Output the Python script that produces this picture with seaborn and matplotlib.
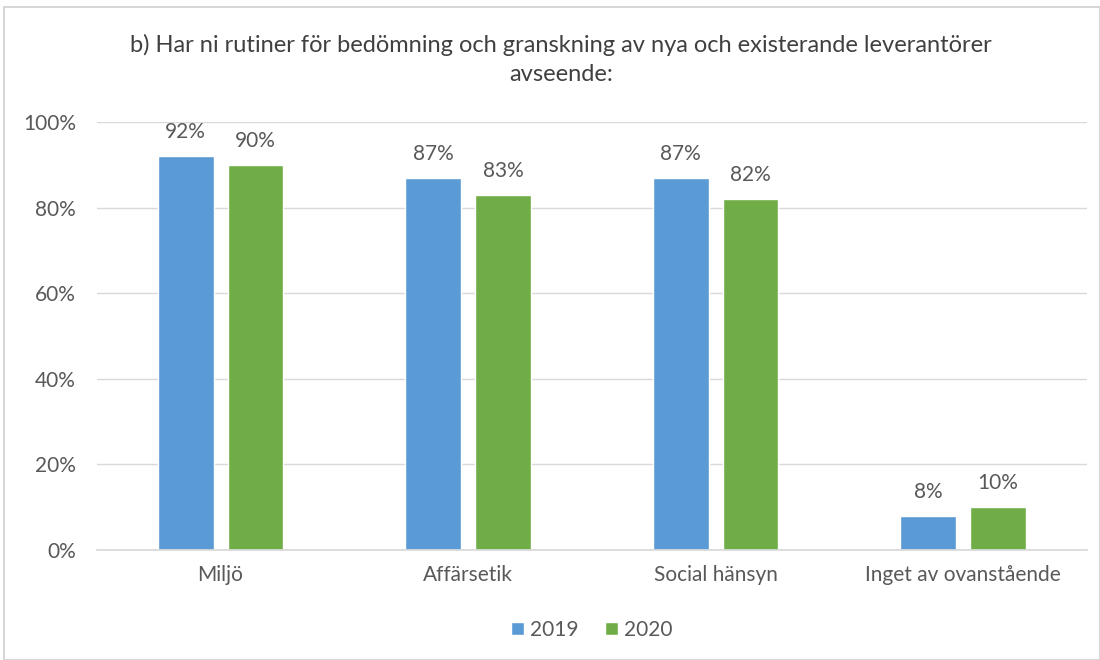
import matplotlib
matplotlib.use("Agg")
import matplotlib.pyplot as plt
import seaborn as sns
import pandas as pd
from matplotlib.patches import Rectangle

categories = ["Miljö", "Affärsetik", "Social hänsyn", "Inget av ovanstående"]
years = ["2019", "2020"]
values_2019 = [92, 87, 87, 8]
values_2020 = [90, 83, 82, 10]
yticks = [0, 20, 40, 60, 80, 100]
title = "b) Har ni rutiner för bedömning och granskning av nya och existerande leverantörer\navseende:"

df = pd.DataFrame({
    "Kategori": categories * 2,
    "År": [years[0]] * len(categories) + [years[1]] * len(categories),
    "Andel": values_2019 + values_2020,
})

sns.set_theme(style="white")
plt.rcParams["font.family"] = ["Lato", "DejaVu Sans"]
text_color = "#595959"
fs = 15

fig = plt.figure(figsize=(11, 6.6), dpi=100)
ax = fig.add_axes([0.088, 0.1667, 0.9, 0.6485])

sns.barplot(data=df, x="Kategori", y="Andel", hue="År",
            palette=["#5B9BD5", "#70AD47"], width=0.565, gap=0.2,
            saturation=1, ax=ax, legend=True)

ax.set_ylim(0, 100)
ax.set_yticks(yticks)
ax.set_yticklabels([f"{t}%" for t in yticks], color=text_color, fontsize=fs)
ax.tick_params(axis="x", colors=text_color, labelsize=fs, length=0, pad=11)
ax.tick_params(axis="y", length=0, pad=15)
ax.set_xlabel("")
ax.set_ylabel("")
ax.yaxis.grid(True, color="#D9D9D9", linewidth=1)
ax.set_axisbelow(True)
for side in ["top", "right", "left"]:
    ax.spines[side].set_visible(False)
ax.spines["bottom"].set_color("#D9D9D9")

for container in ax.containers:
    ax.bar_label(container, labels=[f"{v:.0f}%" for v in container.datavalues],
                 padding=10, color=text_color, fontsize=fs)

leg = ax.legend(loc="upper center", bbox_to_anchor=(0.5, -0.12), ncol=2,
                frameon=False, fontsize=fs, handlelength=0.6, handleheight=0.6,
                columnspacing=1.3, handletextpad=0.3)
for t in leg.get_texts():
    t.set_color(text_color)

fig.text(0.51, 0.948, title, ha="center", va="top", fontsize=17,
         color="#404040", linespacing=1.45)

fig.patches.append(Rectangle((0.004, 0.0), 0.996, 0.989, transform=fig.transFigure,
                             fill=False, edgecolor="#D0D0D0", linewidth=1.2))

fig.savefig("out.png", dpi=100)
